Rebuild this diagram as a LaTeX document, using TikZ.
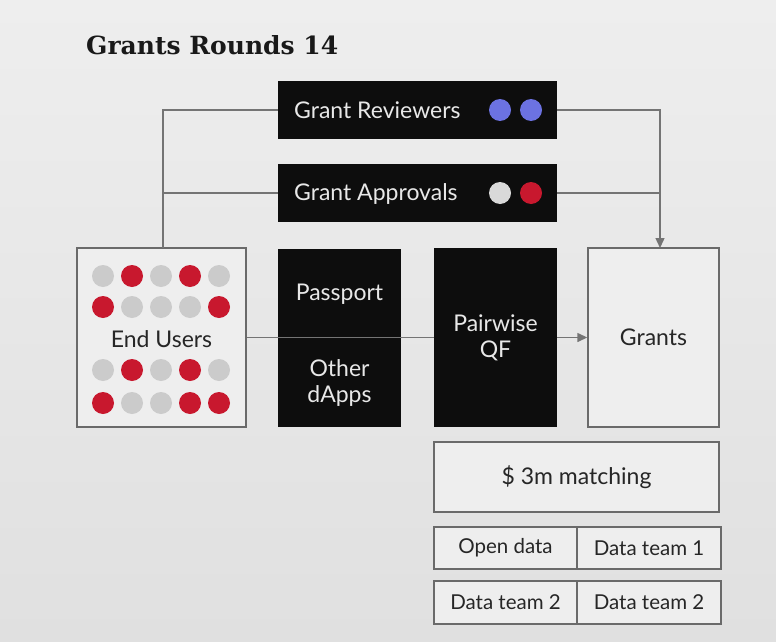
\documentclass[tikz,border=0pt]{standalone}
\usepackage{fontspec}
\setmainfont{Lato}
\newfontfamily\titlefont{DejaVu Serif}
\usetikzlibrary{arrows.meta,calc}
\definecolor{bg}{HTML}{EEEEEE}
\definecolor{bgdark}{HTML}{E0E0E0}
\definecolor{lineg}{HTML}{747474}
\definecolor{boxg}{HTML}{6A6A6A}
\definecolor{dotred}{HTML}{C8182E}
\definecolor{dotgray}{HTML}{CBCBCB}
\definecolor{dotlight}{HTML}{D9D9D9}
\definecolor{dotblue}{HTML}{6C72E2}
\definecolor{boxfill}{HTML}{EEEEEE}
\definecolor{txtw}{HTML}{E8E8E8}
\begin{document}
\begin{tikzpicture}[x=1pt,y=-1pt,
  darkbox/.style={fill=black!95,draw=none,inner sep=0pt,text=txtw,font=\fontsize{23}{26}\selectfont,align=center},
  lightbox/.style={fill=boxfill,draw=boxg,line width=1.4pt,inner sep=0pt,text=black!85,font=\fontsize{23}{26}\selectfont,align=center},
  smallbox/.style={lightbox,font=\fontsize{20.5}{24}\selectfont},
  conn/.style={draw=lineg,line width=1.4pt},
  arr/.style={conn,-{Triangle[length=10pt,width=9pt]}},
  dot/.style={circle,minimum size=22pt,inner sep=0pt,draw=none}
]
\shade[top color=bg,bottom color=bgdark] (0,0) rectangle (776,642);
\useasboundingbox (0,0) rectangle (776,642);

\node[anchor=base west,inner sep=0pt,font=\titlefont\bfseries\fontsize{25}{30}\selectfont,text=black!90] (title) at (86,55) {Grants Rounds 14};

% top boxes
\node[darkbox,minimum width=279pt,minimum height=58pt] (reviewers) at (417.5,110) {};
\node[darkbox,anchor=west] (revlabel) at (294,110) {Grant Reviewers};
\node[dot,fill=dotblue] (rd1) at (500,110) {};
\node[dot,fill=dotblue] (rd2) at (531,110) {};

\node[darkbox,minimum width=279pt,minimum height=58pt] (approvals) at (417.5,193) {};
\node[darkbox,anchor=west] (applabel) at (294,194) {Grant Approvals};
\node[dot,fill=dotlight] (ad1) at (500,193) {};
\node[dot,fill=dotred] (ad2) at (531,193) {};

% middle row
\node[lightbox,minimum width=169pt,minimum height=179pt] (users) at (161.5,337.5) {};
\foreach \x/\c in {1/dotgray,2/dotred,3/dotgray,4/dotred,5/dotgray}
  \node[dot,fill=\c] (u1\x) at ({74+29*\x},276) {};
\foreach \x/\c in {1/dotred,2/dotgray,3/dotgray,4/dotgray,5/dotred}
  \node[dot,fill=\c] (u2\x) at ({74+29*\x},307) {};
\foreach \x/\c in {1/dotgray,2/dotred,3/dotgray,4/dotred,5/dotgray}
  \node[dot,fill=\c] (u3\x) at ({74+29*\x},370) {};
\foreach \x/\c in {1/dotred,2/dotgray,3/dotgray,4/dotred,5/dotred}
  \node[dot,fill=\c] (u4\x) at ({74+29*\x},403) {};
\node[font=\fontsize{23}{26}\selectfont,text=black!85] (userslabel) at (161.5,339) {End Users};

\node[darkbox,minimum width=123pt,minimum height=90pt] (passport) at (339.5,294) {Passport};
\node[darkbox,minimum width=123pt,minimum height=89pt] (others) at (339.5,382.5) {Other\\dApps};
\node[darkbox,minimum width=123pt,minimum height=179pt] (pairwise) at (495.5,337.5) {Pairwise\\QF};
\node[lightbox,minimum width=131pt,minimum height=179pt] (grants) at (653.5,337.5) {Grants};

% bottom
\node[lightbox,minimum width=285pt,minimum height=70pt] (matching) at (576.5,477) {\$ 3m matching};
\node[smallbox,minimum width=143pt,minimum height=42pt] (open) at (505.5,548) {Open data};
\node[smallbox,minimum width=144pt,minimum height=42pt] (dt1) at (649,548) {Data team 1};
\node[smallbox,minimum width=143pt,minimum height=43pt] (dt2a) at (505.5,602.5) {Data team 2};
\node[smallbox,minimum width=144pt,minimum height=43pt] (dt2b) at (649,602.5) {Data team 2};

% connectors
\coordinate (uin) at (163,248);
\coordinate (gin) at (660,248);
\draw[conn] (reviewers.west) -| (uin);
\draw[conn] (approvals.west) -- (approvals.west -| uin);
\draw[arr] (reviewers.east) -| (gin);
\draw[conn] (approvals.east) -- (approvals.east -| gin);
\draw[conn] (users.east) -- (pairwise.west);
\draw[arr] (pairwise.east) -- (grants.west);
\end{tikzpicture}
\end{document}
